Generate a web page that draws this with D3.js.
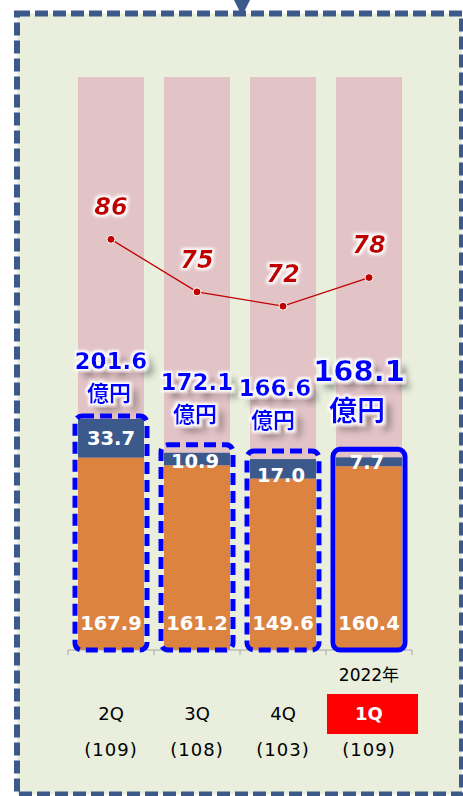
<!DOCTYPE html>
<html>
<head>
<meta charset="utf-8">
<script src="https://cdn.jsdelivr.net/npm/d3@7"></script>
<style>
  body { margin: 0; background: #ffffff; }
  svg { display: block; }
</style>
</head>
<body>
<div id="chart"></div>
<script>
// quarters, values in 億円
const categories = ["2Q", "3Q", "4Q", "1Q"];
const subLabels = ["(109)", "(108)", "(103)", "(109)"];
const yearLabel = "2022年";
const baseValues = [167.9, 161.2, 149.6, 160.4];   // orange
const topValues = [33.7, 10.9, 17.0, 7.7];         // navy
const totals = [201.6, 172.1, 166.6, 168.1];
const lineValues = [86, 75, 72, 78];               // red line (right axis)
const bgMax = 120;                                  // pink background bars

const width = 463, height = 796;

const config = {
	plotLeft: 68,
	plotRight: 412,
	plotTop: 77,
	plotBottom: 650,
	navy: "#3b5a8b",
	orange: "#dc833f",
	pink: "#e2c4c6",
	panel: "#e9eedd",
	blue: "#0000ff",
	red: "#c00000"
};

const svg = d3.select("#chart").append("svg")
	.attr("width", width)
	.attr("height", height);

const defs = svg.append("defs");

// white halo for the red line labels
const glow = defs.append("filter").attr("id", "glow")
	.attr("x", "-30%").attr("y", "-30%").attr("width", "160%").attr("height", "160%");
glow.append("feMorphology").attr("in", "SourceAlpha").attr("operator", "dilate").attr("radius", 1.5).attr("result", "d");
glow.append("feGaussianBlur").attr("in", "d").attr("stdDeviation", 1.5).attr("result", "b");
glow.append("feFlood").attr("flood-color", "#ffffff");
glow.append("feComposite").attr("in2", "b").attr("operator", "in").attr("result", "w");
const gm = glow.append("feMerge");
gm.append("feMergeNode").attr("in", "w");
gm.append("feMergeNode").attr("in", "SourceGraphic");

// dark shadow + white halo for the total labels
const shadow = defs.append("filter").attr("id", "shadow")
	.attr("x", "-30%").attr("y", "-40%").attr("width", "170%").attr("height", "190%");
shadow.append("feGaussianBlur").attr("in", "SourceAlpha").attr("stdDeviation", 3.5).attr("result", "sb");
shadow.append("feOffset").attr("in", "sb").attr("dx", 7).attr("dy", 7).attr("result", "so");
shadow.append("feFlood").attr("flood-color", "#000000").attr("flood-opacity", 0.5);
shadow.append("feComposite").attr("in2", "so").attr("operator", "in").attr("result", "sh");
shadow.append("feMorphology").attr("in", "SourceAlpha").attr("operator", "dilate").attr("radius", 1.5).attr("result", "d2");
shadow.append("feGaussianBlur").attr("in", "d2").attr("stdDeviation", 1).attr("result", "b2");
shadow.append("feFlood").attr("flood-color", "#ffffff");
shadow.append("feComposite").attr("in2", "b2").attr("operator", "in").attr("result", "w2");
const sm = shadow.append("feMerge");
sm.append("feMergeNode").attr("in", "sh");
sm.append("feMergeNode").attr("in", "w2");
sm.append("feMergeNode").attr("in", "SourceGraphic");

// panel + dashed frame
svg.append("rect")
	.attr("x", 17).attr("y", 13.5)
	.attr("width", 445).attr("height", 781)
	.attr("fill", config.panel)
	.attr("stroke", config.navy)
	.attr("stroke-width", 6)
	.attr("stroke-dasharray", "13 5");

svg.append("path")
	.attr("d", "M234,0 L250,0 L242,16 Z")
	.attr("fill", config.navy);

const x = d3.scaleBand()
	.domain(categories)
	.range([config.plotLeft, config.plotRight])
	.paddingInner(0.233)
	.paddingOuter(0.1165);

const y = d3.scaleLinear().domain([0, 500]).range([config.plotBottom, config.plotTop]);
const y2 = d3.scaleLinear().domain([0, bgMax]).range([config.plotBottom, config.plotTop]);

const cx = (c) => x(c) + x.bandwidth() / 2;

// pink background bars
svg.selectAll(".bg")
	.data(categories)
	.enter().append("rect")
	.attr("class", "bg")
	.attr("x", d => x(d))
	.attr("y", y2(bgMax))
	.attr("width", x.bandwidth())
	.attr("height", y2(0) - y2(bgMax))
	.attr("fill", config.pink);

// stacked bars
const stackData = categories.map((c, i) => ({ cat: c, base: baseValues[i], top: topValues[i] }));
const series = d3.stack().keys(["base", "top"])(stackData);
const colors = { base: config.orange, top: config.navy };

svg.selectAll(".series")
	.data(series)
	.enter().append("g")
	.attr("fill", d => colors[d.key])
	.selectAll("rect")
	.data(d => d)
	.enter().append("rect")
	.attr("x", d => x(d.data.cat))
	.attr("y", d => y(d[1]))
	.attr("width", x.bandwidth())
	.attr("height", d => y(d[0]) - y(d[1]));

// axis line with ticks between categories
const axisG = svg.append("g");
axisG.append("line")
	.attr("x1", config.plotLeft).attr("x2", config.plotRight)
	.attr("y1", config.plotBottom).attr("y2", config.plotBottom)
	.attr("stroke", "#a6a6a6").attr("stroke-width", 1);
const tickXs = categories.map(c => x(c) - x.step() * x.paddingInner() / 2).concat([config.plotRight]);
axisG.selectAll(".tk")
	.data(tickXs)
	.enter().append("line")
	.attr("x1", d => d).attr("x2", d => d)
	.attr("y1", config.plotBottom).attr("y2", config.plotBottom + 5)
	.attr("stroke", "#a6a6a6");

// blue boxes around stacks
svg.selectAll(".box")
	.data(categories)
	.enter().append("rect")
	.attr("class", "box")
	.attr("x", d => x(d) - 3)
	.attr("y", (d, i) => y(totals[i]) - (i === 0 ? 3 : 8))
	.attr("width", x.bandwidth() + 6)
	.attr("height", (d, i) => config.plotBottom - y(totals[i]) + (i === 0 ? 3 : 8))
	.attr("rx", 7)
	.attr("fill", "none")
	.attr("stroke", config.blue)
	.attr("stroke-width", 5)
	.attr("stroke-dasharray", (d, i) => i === 3 ? null : "12 6");

// segment labels
const numFont = "'DejaVu Sans', Verdana, sans-serif";
svg.selectAll(".baseLbl")
	.data(categories)
	.enter().append("text")
	.attr("x", d => cx(d))
	.attr("y", 623)
	.attr("dy", "0.36em")
	.attr("text-anchor", "middle")
	.attr("font-family", numFont)
	.attr("font-weight", "bold")
	.attr("font-size", 19.5)
	.attr("fill", "#ffffff")
	.text((d, i) => baseValues[i].toFixed(1));

svg.selectAll(".topLbl")
	.data(categories)
	.enter().append("text")
	.attr("x", (d, i) => cx(d) - (i === 0 ? 0 : 2))
	.attr("y", (d, i) => i === 0 ? y(baseValues[i] + topValues[i] / 2) : y(baseValues[i]) - 4)
	.attr("dy", "0.36em")
	.attr("text-anchor", "middle")
	.attr("font-family", numFont)
	.attr("font-weight", "bold")
	.attr("font-size", 19.5)
	.attr("fill", "#ffffff")
	.text((d, i) => topValues[i].toFixed(1));

// total labels: number and 億円 as two lines of one text
const totalOffsets = [0, 0, -8, -10];
const totalText = svg.selectAll(".tot")
	.data(categories)
	.enter().append("text")
	.attr("class", "tot")
	.attr("filter", "url(#shadow)")
	.attr("text-anchor", "middle")
	.attr("fill", config.blue)
	.attr("font-weight", "bold");
totalText.append("tspan")
	.attr("x", (d, i) => cx(d) + totalOffsets[i])
	.attr("y", (d, i) => i === 3 ? 371 : y(totals[i]) - (i === 0 ? 58 : 71))
	.attr("dy", "0.36em")
	.attr("font-family", numFont)
	.attr("font-size", (d, i) => i === 3 ? 29 : 23)
	.text((d, i) => totals[i].toFixed(1));
totalText.append("tspan")
	.attr("x", (d, i) => cx(d) + totalOffsets[i] - 2)
	.attr("y", (d, i) => i === 3 ? 411 : y(totals[i]) - (i === 0 ? 26 : 39))
	.attr("dy", "0.36em")
	.attr("font-family", "'Noto Sans CJK JP', sans-serif")
	.attr("font-size", (d, i) => i === 3 ? 28 : 22)
	.text("億円");

// red line
const line = d3.line()
	.x((d, i) => cx(categories[i]))
	.y(d => y2(d));
svg.append("path")
	.datum(lineValues)
	.attr("d", line)
	.attr("fill", "none")
	.attr("stroke", config.red)
	.attr("stroke-width", 1.3);
svg.selectAll(".dot")
	.data(lineValues)
	.enter().append("circle")
	.attr("cx", (d, i) => cx(categories[i]))
	.attr("cy", d => y2(d))
	.attr("r", 4)
	.attr("fill", config.red)
	.attr("stroke", "#ffffff")
	.attr("stroke-width", 1);
svg.selectAll(".lineLbl")
	.data(lineValues)
	.enter().append("text")
	.attr("x", (d, i) => cx(categories[i]))
	.attr("y", d => y2(d) - 33)
	.attr("dy", "0.36em")
	.attr("text-anchor", "middle")
	.attr("font-family", numFont)
	.attr("font-weight", "bold")
	.attr("font-style", "italic")
	.attr("font-size", 24)
	.attr("fill", config.red)
	.attr("filter", "url(#glow)")
	.text(d => d);

// category labels
const catFont = "'DejaVu Sans', 'Noto Sans CJK JP', sans-serif";
svg.append("text")
	.attr("x", cx(categories[3]))
	.attr("y", 675)
	.attr("dy", "0.36em")
	.attr("text-anchor", "middle")
	.attr("font-family", catFont)
	.attr("font-size", 17)
	.attr("fill", "#000000")
	.text(yearLabel);

svg.append("rect")
	.attr("x", 327).attr("y", 694)
	.attr("width", 91).attr("height", 40)
	.attr("fill", "#ff0000");

svg.selectAll(".cat")
	.data(categories)
	.enter().append("text")
	.attr("x", d => cx(d))
	.attr("y", 714)
	.attr("dy", "0.36em")
	.attr("text-anchor", "middle")
	.attr("font-family", catFont)
	.attr("font-size", 18)
	.attr("font-weight", (d, i) => i === 3 ? "bold" : "normal")
	.attr("fill", (d, i) => i === 3 ? "#ffffff" : "#000000")
	.text(d => d);

svg.selectAll(".sub")
	.data(categories)
	.enter().append("text")
	.attr("x", d => cx(d))
	.attr("y", 750)
	.attr("dy", "0.36em")
	.attr("text-anchor", "middle")
	.attr("font-family", catFont)
	.attr("font-size", 18)
	.attr("letter-spacing", 1)
	.attr("fill", "#000000")
	.text((d, i) => subLabels[i]);
</script>
</body>
</html>
